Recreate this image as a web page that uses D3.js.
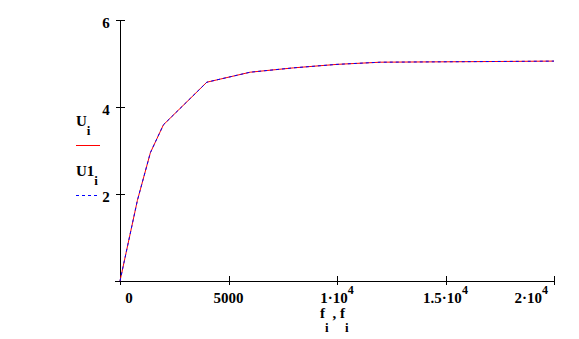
<!DOCTYPE html>
<html><head><meta charset="utf-8">
<script src="https://cdn.jsdelivr.net/npm/d3@7"></script>
<style>
body{margin:0;background:#fff;}
text{font-family:"Liberation Serif","Times New Roman",serif;font-weight:bold;fill:#000;}
</style></head>
<body><svg id="c" width="579" height="339"></svg>
<script>
// data
const freq = [0, 800, 1400, 2000, 4000, 6000, 8000, 10000, 12000, 17000, 20000];
const U    = [0, 1.85, 2.95, 3.59, 4.57, 4.80, 4.90, 4.98, 5.03, 5.045, 5.055];
const U1   = [0, 1.85, 2.95, 3.59, 4.57, 4.80, 4.90, 4.98, 5.03, 5.045, 5.055];
const xTicks = [0, 5000, 10000, 15000, 20000];
const yTicks = [2, 4, 6];

const svg = d3.select("#c");
const x = d3.scaleLinear().domain([0, 20000]).range([120, 554]);
const y = d3.scaleLinear().domain([0, 6]).range([281, 20]);

// axes
svg.append("line").attr("x1",115).attr("x2",x(20000)).attr("y1",y(0)+0.5).attr("y2",y(0)+0.5).attr("stroke","#000");
svg.append("line").attr("x1",x(0)+0.5).attr("x2",x(0)+0.5).attr("y1",y(6)).attr("y2",285).attr("stroke","#000");

yTicks.forEach(v=>{
  svg.append("line").attr("x1",x(0)-4).attr("x2",x(0)+5).attr("y1",Math.round(y(v))+0.5).attr("y2",Math.round(y(v))+0.5).attr("stroke","#000");
  svg.append("text").attr("x",x(0)-14).attr("y",y(v)+8).attr("text-anchor","middle").attr("font-size",15).text(v);
});

xTicks.forEach((v,i)=>{
  if(i>0) svg.append("line").attr("x1",Math.round(x(v))+0.5).attr("x2",Math.round(x(v))+0.5).attr("y1",y(0)-5).attr("y2",y(0)+4).attr("stroke","#000");
  let tx = x(v), anchor = "middle";
  if(i===0) tx += 9;
  if(i===xTicks.length-1){ tx -= 6; anchor = "end"; }
  const t = svg.append("text").attr("x",tx).attr("y",303).attr("text-anchor",anchor).attr("font-size",15);
  if(v >= 10000){
    t.append("tspan").text((v/1e4)+"\u00B710");
    t.append("tspan").attr("dy",-9).attr("font-size",12).text("4");
  } else {
    t.text(v);
  }
});

// lines
const line = d3.line().x((d,i)=>x(freq[i])).y(d=>y(d));
svg.append("path").datum(U).attr("d",line).attr("fill","none").attr("stroke","#ff0000").attr("stroke-width",1);
svg.append("path").datum(U1).attr("d",line).attr("fill","none").attr("stroke","#0000ff").attr("stroke-width",1).attr("stroke-dasharray","3,3");

// legend / y-axis labels
const l1 = svg.append("text").attr("x",76).attr("y",126).attr("font-size",15);
l1.append("tspan").text("U");
l1.append("tspan").attr("dy",9).attr("font-size",13).text("i");
svg.append("line").attr("x1",76).attr("x2",100).attr("y1",145.5).attr("y2",145.5).attr("stroke","#ff0000");
const l2 = svg.append("text").attr("x",76).attr("y",176).attr("font-size",15);
l2.append("tspan").text("U1");
l2.append("tspan").attr("dy",9).attr("font-size",13).text("i");
svg.append("line").attr("x1",76).attr("x2",97).attr("y1",195.5).attr("y2",195.5).attr("stroke","#0000ff").attr("stroke-dasharray","3,3");

// x-axis title
const xt = svg.append("text").attr("x",320).attr("y",318).attr("font-size",15);
xt.append("tspan").text("f");
xt.append("tspan").attr("dy",14).attr("font-size",13).text("i");
xt.append("tspan").attr("dy",-14).text(" , ");
xt.append("tspan").text("f");
xt.append("tspan").attr("dy",14).attr("font-size",13).text("i");
</script></body></html>
